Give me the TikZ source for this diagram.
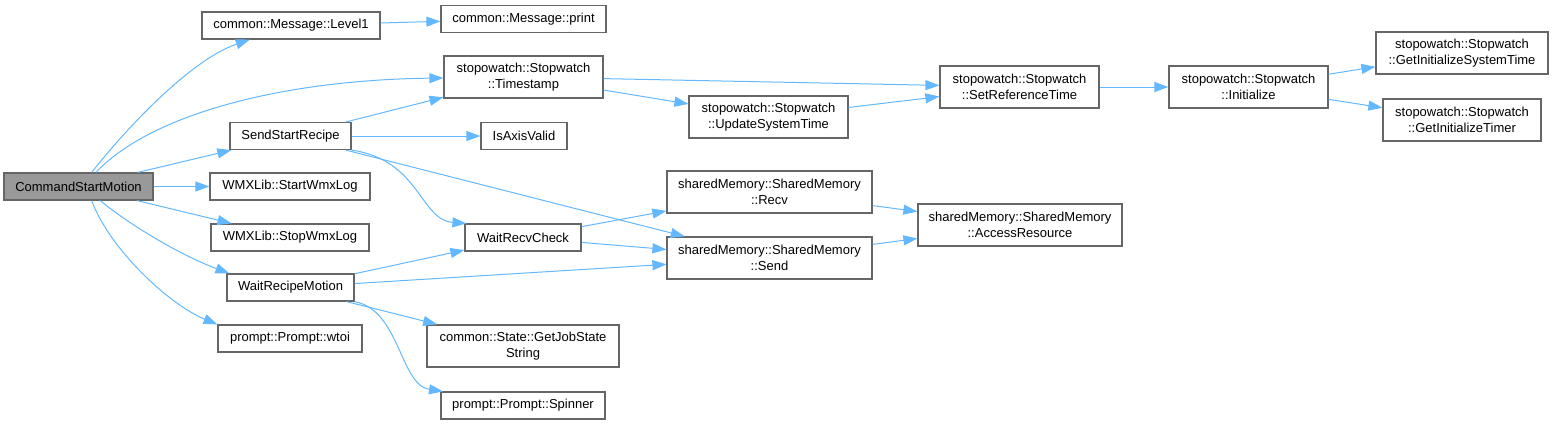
\documentclass[tikz,border=0pt]{standalone}
\usepackage{fontspec}
\setmainfont{Liberation Sans}
\usetikzlibrary{arrows.meta}
\definecolor{edgeblue}{HTML}{63B8FF}
\definecolor{boxgray}{HTML}{666666}
\definecolor{rootfill}{HTML}{999999}
\newcommand{\nfnt}{\fontsize{13}{16}\selectfont}
\tikzset{
  box/.style={draw=boxgray, line width=1.2pt, fill=white, inner sep=0pt, align=center, font=\nfnt},
  rootbox/.style={box, fill=rootfill},
  one/.style={minimum height=27pt},
  two/.style={minimum height=42pt},
  edge/.style={draw=edgeblue, line width=1pt, -{Triangle[length=14pt,width=10pt]}}
}
\begin{document}
\begin{tikzpicture}[x=1pt,y=-1pt]
\useasboundingbox (0,0) rectangle (1554,424);
% nodes
\node[rootbox,one,minimum width=149pt] (csm) at (78.5,186.5) {CommandStartMotion};
\node[box,one,minimum width=178pt] (lev1) at (291,25.5) {common::Message::Level1};
\node[box,one,minimum width=165pt] (print) at (523.5,19) {common::Message::print};
\node[box,two,minimum width=159pt] (ts) at (523.5,77) {stopowatch::Stopwatch\\::Timestamp};
\node[box,one,minimum width=121pt] (ssr) at (290.5,136) {SendStartRecipe};
\node[box,one,minimum width=86pt] (isaxis) at (524,136) {IsAxisValid};
\node[box,one,minimum width=160pt] (start) at (290,186.5) {WMXLib::StartWmxLog};
\node[box,one,minimum width=158pt] (stop) at (290,237.5) {WMXLib::StopWmxLog};
\node[box,one,minimum width=127pt] (wrm) at (290.5,287.5) {WaitRecipeMotion};
\node[box,one,minimum width=144pt] (wtoi) at (290,338.5) {prompt::Prompt::wtoi};
\node[box,one,minimum width=116pt] (wrc) at (523,237.5) {WaitRecvCheck};
\node[box,two,minimum width=192pt] (gjs) at (523,346) {common::State::GetJobState\\String};
\node[box,one,minimum width=164pt] (spin) at (523,405.5) {prompt::Prompt::Spinner};
\node[box,two,minimum width=159pt] (ust) at (768.5,117) {stopowatch::Stopwatch\\::UpdateSystemTime};
\node[box,two,minimum width=159pt] (srt) at (1019.5,87) {stopowatch::Stopwatch\\::SetReferenceTime};
\node[box,two,minimum width=205pt] (recv) at (769.5,192) {sharedMemory::SharedMemory\\::Recv};
\node[box,two,minimum width=205pt] (send) at (769.5,258) {sharedMemory::SharedMemory\\::Send};
\node[box,two,minimum width=204pt] (acc) at (1020,225) {sharedMemory::SharedMemory\\::AccessResource};
\node[box,two,minimum width=159pt] (init) at (1248.5,87) {stopowatch::Stopwatch\\::Initialize};
\node[box,two,minimum width=172pt] (gist) at (1462,53) {stopowatch::Stopwatch\\::GetInitializeSystemTime};
\node[box,two,minimum width=158pt] (git) at (1462,120) {stopowatch::Stopwatch\\::GetInitializeTimer};
% edges from CommandStartMotion
\draw[edge] (csm.47) .. controls (125,130) and (190,60) .. (lev1);
\draw[edge] (csm.39) .. controls (150,115) and (280,80) .. (ts);
\draw[edge] (csm) -- (ssr);
\draw[edge] (csm) -- (start);
\draw[edge] (csm) -- (stop);
\draw[edge] (csm.-33) .. controls (130,225) and (180,255) .. (wrm.167);
\draw[edge] (csm.-47) .. controls (110,250) and (170,305) .. (wtoi.169);
% others
\draw[edge] (lev1) -- (print);
\draw[edge] (ssr) -- (ts);
\draw[edge] (ssr) -- (isaxis);
\draw[edge] (ssr.south east) .. controls (420,160) and (420,220) .. (wrc.166);
\draw[edge] (ssr) -- (send);
\draw[edge] (ts) -- (srt);
\draw[edge] (ts) -- (ust);
\draw[edge] (ust) -- (srt);
\draw[edge] (srt) -- (init);
\draw[edge] (init) -- (gist);
\draw[edge] (init) -- (git);
\draw[edge] (wrc) -- (recv);
\draw[edge] (wrc) -- (send);
\draw[edge] (wrm) -- (wrc);
\draw[edge] (wrm) -- (send);
\draw[edge] (wrm) -- (gjs);
\draw[edge] (wrm.south east) .. controls (400,310) and (400,385) .. (spin.170);
\draw[edge] (recv) -- (acc);
\draw[edge] (send) -- (acc);
\end{tikzpicture}
\end{document}
